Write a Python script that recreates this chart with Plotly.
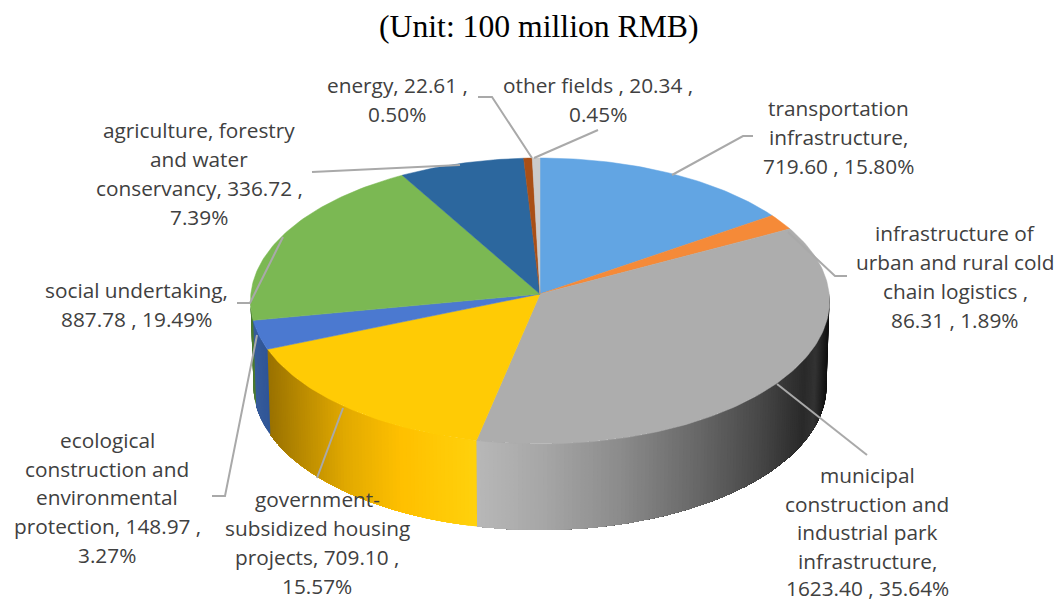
import math
import numpy as np
import plotly.graph_objects as go

# ---- data ----
categories = ["transportation infrastructure", "infrastructure of urban and rural cold chain logistics",
              "municipal construction and industrial park infrastructure", "government-subsidized housing projects",
              "ecological construction and environmental protection", "social undertaking",
              "agriculture, forestry and water conservancy", "energy", "other fields"]
values = [719.60, 86.31, 1623.40, 709.10, 148.97, 887.78, 336.72, 22.61, 20.34]
shares = [15.80, 1.89, 35.64, 15.57, 3.27, 19.49, 7.39, 0.50, 0.45]
top_colors = ["#62A5E3", "#F58A38", "#ADADAD", "#FFCB05", "#4B79D0", "#7BB853", "#2C679E", "#A94F16", "#CBCBCB"]

title_text = "(Unit: 100 million RMB)"
label_lines = [
    ["transportation", "infrastructure,", "719.60 , 15.80%"],
    ["infrastructure of", "urban and rural cold", "chain logistics ,", "86.31 , 1.89%"],
    ["municipal", "construction and", "industrial park", "infrastructure,", "1623.40 , 35.64%"],
    ["government-", "subsidized housing", "projects, 709.10 ,", "15.57%"],
    ["ecological", "construction and", "environmental", "protection, 148.97 ,", "3.27%"],
    ["social undertaking,", "887.78 , 19.49%"],
    ["agriculture, forestry", "and water", "conservancy, 336.72 ,", "7.39%"],
    ["energy, 22.61 ,", "0.50%"],
    ["other fields , 20.34 ,", "0.45%"],
]

# ---- layout of the projected pie (pixels of the page) ----
CX, CY, RX, RY = 540, 301, 289.5, 143
APEX_Y = 294
BCY, BRX, BRY = 386, 286.5, 144
# perspective warp of the projected disc: true angle (deg) -> shift along the ellipse (deg)
WARP_T = [0, 57, 64, 130, 192, 248, 260, 330, 360]
WARP_D = [0, -3.6, -4, -1.5, 0.7, 2.2, 2.4, 1.6, 0]
label_x = [838, 955, 867, 317, 107, 136, 199, 397, 598]
label_y = [[108, 137, 166], [233, 262, 291, 320], [475, 504, 532, 561, 588], [499, 528, 557, 586],
           [440, 469, 497, 526, 555], [290, 319], [130, 159, 188, 217], [85, 114], [85, 114]]
leaders = [
    [(672, 175), (743, 136), (753, 136)],
    [(788, 232), (835, 276), (847, 276)],
    [(777, 384), (867, 455)],
    [(343, 408), (317, 478)],
    [(257, 335), (225, 496), (212, 496)],
    [(283, 237), (250, 303), (237, 303)],
    [(460, 165), (312, 172)],
    [(532, 158), (492, 97), (478, 97)],
    [(534, 158), (598, 130)],
]
wall_stops = {
    2: [(476, "#B8B8B8"), (540, "#A8A8A8"), (620, "#8C8C8C"), (700, "#676767"), (760, "#484848"),
        (805, "#2A2A2A"), (816, "#333333"), (830, "#0E0E0E")],
    3: [(268, "#9A7200"), (300, "#B98A00"), (345, "#E2AA00"), (400, "#FFC000"), (476, "#FFD20C")],
    4: [(250, "#3A5F9C"), (268, "#2F5597")],
    5: [(248, "#4B7A32"), (256, "#4B7A32")],
}


def rgb(h):
    return [int(h[i:i + 2], 16) for i in (1, 3, 5)]


def wall_color(idx, x):
    st = wall_stops[idx]
    xs = [s[0] for s in st]
    cols = np.array([rgb(s[1]) for s in st], float)
    c = [np.interp(x, xs, cols[:, k]) for k in range(3)]
    return "rgb(%d,%d,%d)" % tuple(c)


def warp(t):
    return t + math.radians(np.interp(math.degrees(t), WARP_T, WARP_D))


def top_pt(t):
    p = warp(t)
    return CX + RX * math.sin(p), CY - RY * math.cos(p)


def bot_pt(t):
    p = warp(t)
    return CX + BRX * math.sin(p), BCY - BRY * math.cos(p)


total = sum(shares)
edges = np.cumsum([0] + shares) / total * 2 * math.pi

fig = go.Figure()

# side walls, painted strip over strip (each reaches to the slice end) for a seamless gradient
vis_a, vis_b = math.radians(90), math.radians(268)
for i in range(len(shares)):
    a, b = max(edges[i], vis_a), min(edges[i + 1], vis_b)
    if b <= a or i not in wall_stops:
        continue
    n = max(2, int((b - a) / math.radians(0.8)))
    ts = np.linspace(a, b, n + 1)
    for k, t0 in enumerate(ts[:-1]):
        rest = ts[k:]
        p = [top_pt(t) for t in rest] + [bot_pt(t) for t in rest[::-1]]
        p.append(p[0])
        col = wall_color(i, (top_pt(ts[k])[0] + top_pt(ts[k + 1])[0]) / 2)
        fig.add_trace(go.Scatter(x=[q[0] for q in p], y=[q[1] for q in p], mode="none", fill="toself",
                                 fillcolor=col, hoverinfo="skip", showlegend=False))

# top face
for i, name in enumerate(categories):
    ts = np.linspace(edges[i], edges[i + 1], max(3, int((edges[i + 1] - edges[i]) / math.radians(1)) + 2))
    xs = [CX] + [top_pt(t)[0] for t in ts] + [CX]
    ys = [APEX_Y] + [top_pt(t)[1] for t in ts] + [APEX_Y]
    fig.add_trace(go.Scatter(x=xs, y=ys, mode="lines", fill="toself", fillcolor=top_colors[i],
                             line=dict(color=top_colors[i], width=0.5), name=name,
                             hovertemplate=f"{name}<br>{values[i]:.2f}, {shares[i]:.2f}%<extra></extra>",
                             showlegend=False))

# leader lines
for seg in leaders:
    fig.add_trace(go.Scatter(x=[p[0] for p in seg], y=[p[1] for p in seg], mode="lines",
                             line=dict(color="#A9A9A9", width=2), hoverinfo="skip", showlegend=False))

# labels
ann = [dict(x=538.5, y=26, xref="x", yref="y", text=title_text, showarrow=False,
            font=dict(family="Liberation Serif", size=31.7, color="#000000"), xanchor="center", yanchor="middle")]
for lines, lx, lys in zip(label_lines, label_x, label_y):
    for line, ly in zip(lines, lys):
        ann.append(dict(x=lx, y=ly, xref="x", yref="y", text=line, showarrow=False,
                        font=dict(family="Open Sans", size=20.8, color="#404040"),
                        xanchor="center", yanchor="middle"))

fig.update_layout(
    width=1058, height=601, margin=dict(l=0, r=0, t=0, b=0), paper_bgcolor="white", plot_bgcolor="white",
    showlegend=False, annotations=ann,
    xaxis=dict(range=[0, 1058], visible=False, fixedrange=True),
    yaxis=dict(range=[601, 0], visible=False, fixedrange=True),
)
fig.write_html("out.html", post_script="document.body.style.margin='0';", config={"displayModeBar": False})
